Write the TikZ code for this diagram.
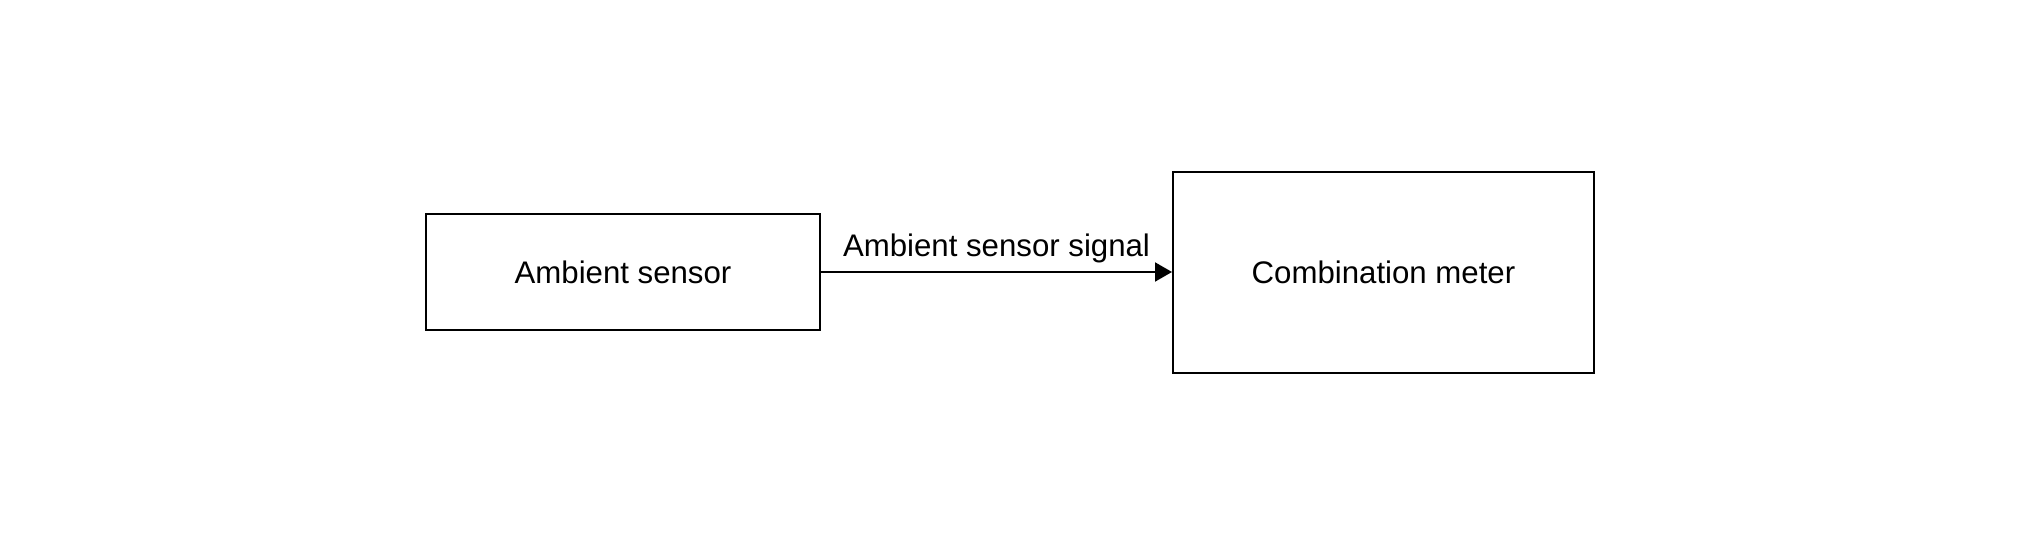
\documentclass[tikz,border=0pt]{standalone}
\usepackage{fontspec}
\setmainfont{Liberation Sans}
\usetikzlibrary{arrows.meta}
\begin{document}
\begin{tikzpicture}[x=0.5pt,y=-0.5pt,
  blk/.style={draw,line width=1pt,inner sep=0pt,font=\fontsize{15.6}{18}\selectfont},
  conn/.style={line width=1pt,-{Triangle[length=8.5pt,width=9.5pt]}},
  lbl/.style={font=\fontsize{15.6}{18}\selectfont,inner sep=0pt,anchor=base}]
\useasboundingbox (0,0) rectangle (2020,544);
\node[blk,minimum width=197pt,minimum height=58pt] (amb) at (623,272) {Ambient sensor};
\node[blk,minimum width=210.5pt,minimum height=100.5pt] (cm) at (1383.5,272.5) {Combination meter};
\draw[conn] (amb.east) -- (cm.west |- amb.east) node[midway,lbl,yshift=7.5pt] (sig) {Ambient sensor signal};
\end{tikzpicture}
\end{document}
